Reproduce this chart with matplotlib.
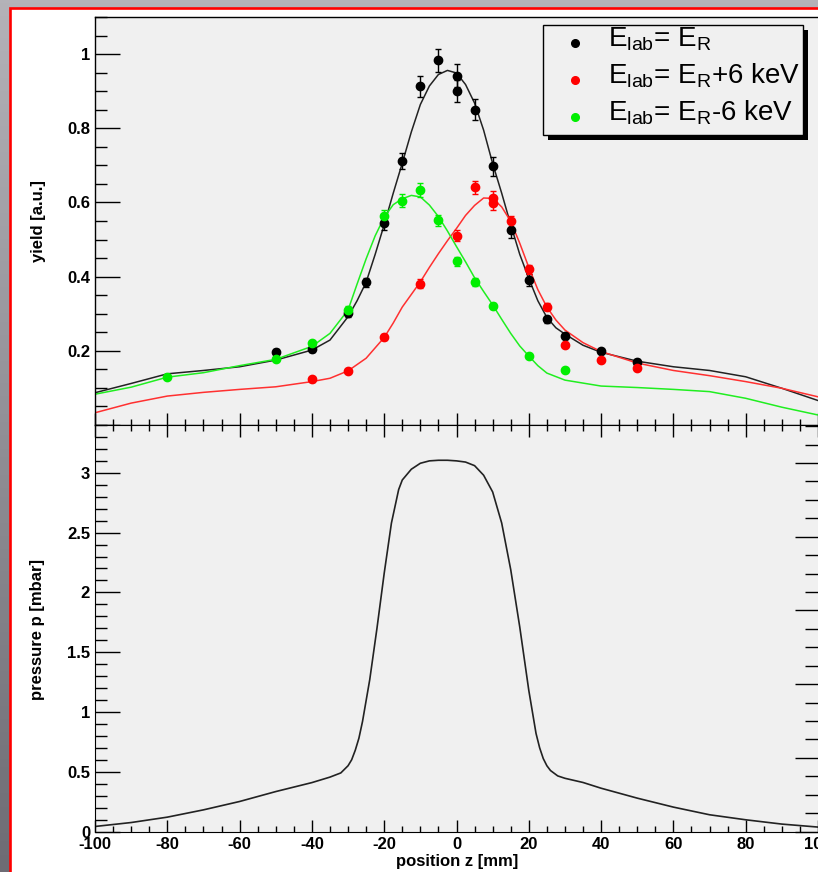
import numpy as np
import matplotlib
matplotlib.use("Agg")
import matplotlib.pyplot as plt
from matplotlib.patches import Rectangle
from matplotlib.lines import Line2D
from matplotlib.ticker import MultipleLocator, FuncFormatter

plt.rcParams['font.family'] = ['Liberation Sans', 'DejaVu Sans']
plt.rcParams['mathtext.fontset'] = 'custom'
plt.rcParams['mathtext.rm'] = 'Liberation Sans'
plt.rcParams['axes.unicode_minus'] = False

# --- measured yields ---
z_black = [-50, -40, -30, -25, -20, -15, -10, -5, 0, 0, 5, 10, 15, 20, 25, 30, 40, 50]
y_black = [0.198, 0.204, 0.301, 0.385, 0.544, 0.711, 0.913, 0.983, 0.942, 0.901,
           0.850, 0.697, 0.526, 0.391, 0.285, 0.241, 0.200, 0.171]
e_black = [0.008, 0.008, 0.010, 0.012, 0.018, 0.022, 0.028, 0.032, 0.030, 0.030,
           0.028, 0.026, 0.022, 0.015, 0.010, 0.008, 0.006, 0.006]

z_red = [-40, -30, -20, -10, 0, 5, 10, 10, 15, 20, 25, 30, 40, 50]
y_red = [0.123, 0.146, 0.236, 0.381, 0.510, 0.641, 0.612, 0.598, 0.549, 0.420,
         0.319, 0.216, 0.175, 0.155]
e_red = [0.006, 0.006, 0.008, 0.012, 0.015, 0.018, 0.018, 0.018, 0.015, 0.012,
         0.010, 0.007, 0.006, 0.006]

z_green = [-80, -50, -40, -30, -20, -15, -10, -5, 0, 5, 10, 20, 30]
y_green = [0.129, 0.177, 0.220, 0.310, 0.564, 0.605, 0.634, 0.552, 0.441, 0.385,
           0.321, 0.186, 0.147]
e_green = [0.005, 0.005, 0.006, 0.010, 0.016, 0.018, 0.018, 0.015, 0.013, 0.010,
           0.008, 0.005, 0.004]

# --- fitted curves ---
fz_black = [-100, -90, -80, -70, -60, -50, -40, -35, -30, -27.5, -25, -22.5, -20, -17.5,
            -15, -12.5, -10, -7.5, -5, -2.5, 0, 2.5, 5, 7.5, 10, 12.5, 15, 17.5, 20,
            22.5, 25, 27.5, 30, 35, 40, 50, 60, 70, 80, 90, 100]
fy_black = [0.087, 0.112, 0.138, 0.147, 0.157, 0.175, 0.202, 0.229, 0.292, 0.335, 0.385,
            0.460, 0.540, 0.625, 0.706, 0.790, 0.864, 0.914, 0.945, 0.956, 0.949, 0.918,
            0.868, 0.795, 0.705, 0.625, 0.540, 0.460, 0.395, 0.335, 0.290, 0.262, 0.245,
            0.215, 0.196, 0.172, 0.157, 0.147, 0.130, 0.099, 0.066]

fz_green = [-100, -90, -80, -70, -60, -50, -40, -35, -30, -27.5, -25, -22.5, -20, -17.5,
            -15, -12.5, -10, -7.5, -5, -2.5, 0, 2.5, 5, 7.5, 10, 12.5, 15, 17.5, 20,
            22.5, 25, 30, 40, 50, 60, 70, 80, 90, 100]
fy_green = [0.083, 0.102, 0.129, 0.141, 0.160, 0.177, 0.212, 0.247, 0.310, 0.380, 0.448,
            0.510, 0.560, 0.594, 0.610, 0.619, 0.615, 0.593, 0.562, 0.523, 0.481, 0.440,
            0.397, 0.360, 0.324, 0.285, 0.247, 0.213, 0.186, 0.160, 0.140, 0.121, 0.105,
            0.101, 0.096, 0.090, 0.072, 0.048, 0.027]

fz_red = [-100, -90, -80, -70, -60, -50, -40, -35, -30, -25, -20, -17.5, -15, -12.5,
          -10, -7.5, -5, -2.5, 0, 2.5, 5, 7.5, 10, 12.5, 15, 17.5, 20, 22.5, 25, 27.5,
          30, 35, 40, 50, 60, 70, 80, 90, 100]
fy_red = [0.033, 0.059, 0.078, 0.088, 0.096, 0.103, 0.117, 0.126, 0.146, 0.180, 0.236,
          0.275, 0.318, 0.352, 0.386, 0.425, 0.462, 0.497, 0.530, 0.565, 0.592, 0.612,
          0.611, 0.588, 0.549, 0.490, 0.425, 0.365, 0.318, 0.283, 0.256, 0.222, 0.198,
          0.167, 0.147, 0.133, 0.117, 0.099, 0.076]

# --- pressure profile ---
pz = [-100, -90, -80, -70, -60, -50, -40, -35, -32, -30, -29, -28, -27, -26, -24, -22,
      -20, -18, -16, -15, -12.5, -10, -7.5, -5, -2.5, 0, 2.5, 5, 7.5, 10, 12.5, 15,
      17.5, 20, 22, 23, 24, 25, 26, 28, 30, 35, 40, 50, 60, 70, 80, 90, 100]
pp = [0.042, 0.075, 0.120, 0.181, 0.251, 0.334, 0.409, 0.455, 0.49, 0.55, 0.60, 0.68,
      0.78, 0.92, 1.27, 1.70, 2.16, 2.58, 2.86, 2.94, 3.03, 3.08, 3.10, 3.105, 3.105,
      3.10, 3.09, 3.06, 2.98, 2.84, 2.58, 2.19, 1.71, 1.18, 0.82, 0.70, 0.61, 0.55,
      0.51, 0.465, 0.445, 0.41, 0.362, 0.279, 0.204, 0.140, 0.098, 0.062, 0.037]

legend_labels = ['E$_{\\mathrm{lab}}$= E$_{\\mathrm{R}}$',
                 'E$_{\\mathrm{lab}}$= E$_{\\mathrm{R}}$+6 keV',
                 'E$_{\\mathrm{lab}}$= E$_{\\mathrm{R}}$-6 keV']

W, H = 818, 872
GREEN = '#00ee00'
RED = '#ff0000'
fig = plt.figure(figsize=(W / 100, H / 100), dpi=100)


def fx(px):
    return px / W


def fy(py):
    return 1 - py / H


# background: gray window + white canvas with red frame
bg = fig.add_axes([0, 0, 1, 1])
bg.set_xlim(0, W)
bg.set_ylim(H, 0)
bg.axis('off')
grad = np.linspace(0, 1, 200)[:, None] * np.ones((1, 50))
bg.imshow(grad, extent=(0, W, H, 0), cmap=matplotlib.colors.LinearSegmentedColormap.from_list(
    'g', ['#b4b2b8', '#6e6c74']), aspect='auto', zorder=0)
bg.add_patch(Rectangle((9.8, 8.3), W, H, facecolor='white', edgecolor='red', lw=1.9, zorder=1))

tick_font = dict(family=['Liberation Sans', 'DejaVu Sans'], weight='bold', size=12)
fmt = FuncFormatter(lambda v, p: '' if abs(v) < 1e-9 else f'{v:g}')

# ---------- top panel ----------
ax1 = fig.add_axes([fx(95), fy(425), fx(W - 95), (425 - 17) / H])
ax1.set_facecolor('#f0f0f0')
for z, fyv, c in [(fz_black, fy_black, '#222222'), (fz_red, fy_red, '#ff3030'),
                  (fz_green, fy_green, '#20ee20')]:
    ax1.plot(z, fyv, color=c, lw=1.1, zorder=2)
for z, y, e, c in [(z_black, y_black, e_black, 'black'), (z_red, y_red, e_red, RED),
                   (z_green, y_green, e_green, GREEN)]:
    ax1.errorbar(z, y, yerr=e, fmt='o', color=c, ms=6, elinewidth=1, capsize=2.2,
                 capthick=1, zorder=3)
ax1.set_xlim(-100, 100)
ax1.set_ylim(0, 1.1)
ax1.yaxis.set_major_locator(MultipleLocator(0.2))
ax1.yaxis.set_minor_locator(MultipleLocator(0.05))
ax1.yaxis.set_major_formatter(fmt)
ax1.xaxis.set_major_locator(MultipleLocator(20))
ax1.xaxis.set_minor_locator(MultipleLocator(5))
ax1.tick_params(axis='y', which='major', direction='in', length=18, width=1, pad=3.6)
ax1.tick_params(axis='y', which='minor', direction='in', length=8.8, width=1)
ax1.tick_params(axis='x', which='major', direction='in', length=8.6, width=1, labelbottom=False)
ax1.tick_params(axis='x', which='minor', direction='in', length=4.3, width=1)
for lab in ax1.get_yticklabels():
    lab.set_fontproperties(matplotlib.font_manager.FontProperties(**tick_font))
ax1.spines['right'].set_visible(False)
for s in ['left', 'top', 'bottom']:
    ax1.spines[s].set_linewidth(1)

# ---------- bottom panel ----------
ax2 = fig.add_axes([fx(95), fy(831.5), fx(W - 95), (831.5 - 425) / H])
ax2.set_facecolor('#f0f0f0')
ax2.plot(pz, pp, color='#222222', lw=1.2)
ax2.set_xlim(-100, 100)
ax2.set_ylim(0, 3.4)
ax2.yaxis.set_major_locator(MultipleLocator(0.5))
ax2.yaxis.set_minor_locator(MultipleLocator(0.1))
ax2.yaxis.set_major_formatter(FuncFormatter(lambda v, p: f'{v:g}'))
ax2.xaxis.set_major_locator(MultipleLocator(20))
ax2.xaxis.set_minor_locator(MultipleLocator(5))
ax2.tick_params(axis='y', which='major', direction='in', length=18, width=1, pad=3.6)
ax2.tick_params(axis='y', which='minor', direction='in', length=8.8, width=1)
ax2.tick_params(axis='x', which='major', direction='in', length=8.6, width=1, pad=3.6, top=True)
ax2.tick_params(axis='x', which='minor', direction='in', length=4.3, width=1, top=True)
for lab in ax2.get_yticklabels() + ax2.get_xticklabels():
    lab.set_fontproperties(matplotlib.font_manager.FontProperties(**tick_font))
ax2.spines['right'].set_visible(False)

ax2r = ax2.twinx()
ax2r.set_ylim(0, (831.5 - 425) / 73.7)
ax2r.yaxis.set_major_locator(MultipleLocator(1))
ax2r.yaxis.set_minor_locator(MultipleLocator(0.25))
ax2r.tick_params(axis='y', which='major', direction='in', length=16.5, width=1, labelright=False)
ax2r.tick_params(axis='y', which='minor', direction='in', length=9.4, width=1)
for s in ax2r.spines.values():
    s.set_visible(False)

# axis titles
title_kw = dict(fontsize=12, fontweight='bold', ha='center', va='center')
fig.text(fx(38), fy(221), 'yield [a.u.]', rotation=90, **title_kw)
fig.text(fx(38), fy(629), 'pressure p [mbar]', rotation=90, **title_kw)
fig.text(fx(457), fy(861), 'position z [mm]', **title_kw)

# legend box with shadow
lx0, ly0, lx1, ly1 = 543, 25, 803, 135
bg2 = fig.add_axes([0, 0, 1, 1], facecolor='none')
bg2.set_xlim(0, W)
bg2.set_ylim(H, 0)
bg2.axis('off')
bg2.add_patch(Rectangle((lx0 + 5, ly0 + 5), lx1 - lx0, ly1 - ly0, facecolor='black', lw=0))
bg2.add_patch(Rectangle((lx0, ly0), lx1 - lx0, ly1 - ly0, facecolor='#f0f0f0',
                        edgecolor='black', lw=1))
for i, (lab, c) in enumerate(zip(legend_labels, ['black', RED, GREEN])):
    yc = 43 + i * 37
    bg2.add_line(Line2D([575], [yc], marker='o', ms=5.5, color=c, lw=0))
    bg2.text(608, yc - 4, lab, fontsize=20, ha='left', va='center')

fig.savefig('out.png', dpi=100)
